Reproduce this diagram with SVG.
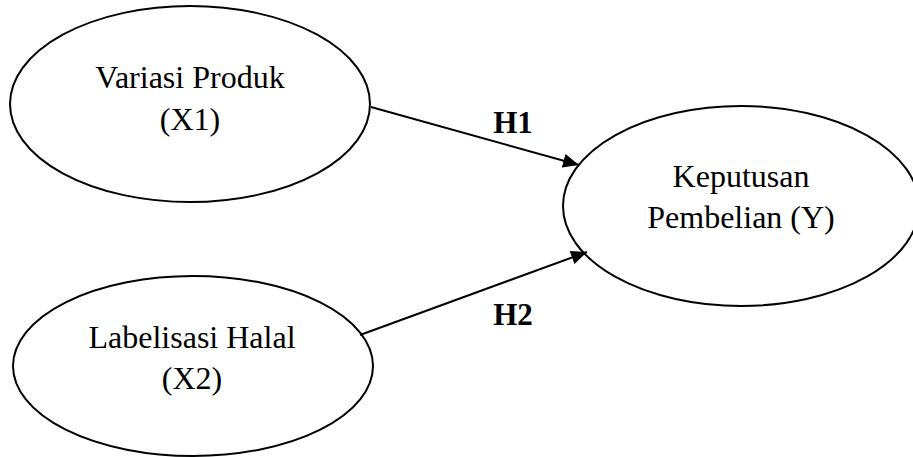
<svg xmlns="http://www.w3.org/2000/svg" width="913" height="457" viewBox="0 0 913 457">
<style>
.node{fill:#fff;stroke:#000;stroke-width:2}
.t{font-family:"Liberation Serif","Times New Roman",serif;font-size:32px;fill:#000;text-anchor:middle}
.h{font-family:"Liberation Serif","Times New Roman",serif;font-size:31px;font-weight:bold;fill:#000;text-anchor:middle}
.c{stroke:#000;stroke-width:2;fill:none}
</style>
<defs>
<marker id="arr" viewBox="0 0 10 10" refX="10" refY="5" markerWidth="8" markerHeight="7" markerUnits="strokeWidth" orient="auto" preserveAspectRatio="none">
<path d="M0,0 L10,5 L0,10 z" fill="#000"/>
</marker>
</defs>
<rect width="913" height="457" fill="#fff"/>
<g id="x1">
<ellipse class="node" cx="190" cy="104" rx="180" ry="98"/>
<text class="t" x="190" y="88">Variasi Produk</text>
<text class="t" x="190" y="130">(X1)</text>
</g>
<g id="x2">
<ellipse class="node" cx="193" cy="366" rx="180" ry="90"/>
<text class="t" x="192" y="348">Labelisasi Halal</text>
<text class="t" x="192" y="389">(X2)</text>
</g>
<g id="y">
<ellipse class="node" cx="741" cy="206" rx="178" ry="100"/>
<text class="t" x="741" y="187">Keputusan</text>
<text class="t" x="741" y="228">Pembelian (Y)</text>
</g>
<g id="connectors">
<line class="c" x1="371" y1="107" x2="579" y2="165" marker-end="url(#arr)"/>
<line class="c" x1="360" y1="335" x2="587" y2="252" marker-end="url(#arr)"/>
<text class="h" x="513" y="133">H1</text>
<text class="h" x="513" y="325">H2</text>
</g>
</svg>
